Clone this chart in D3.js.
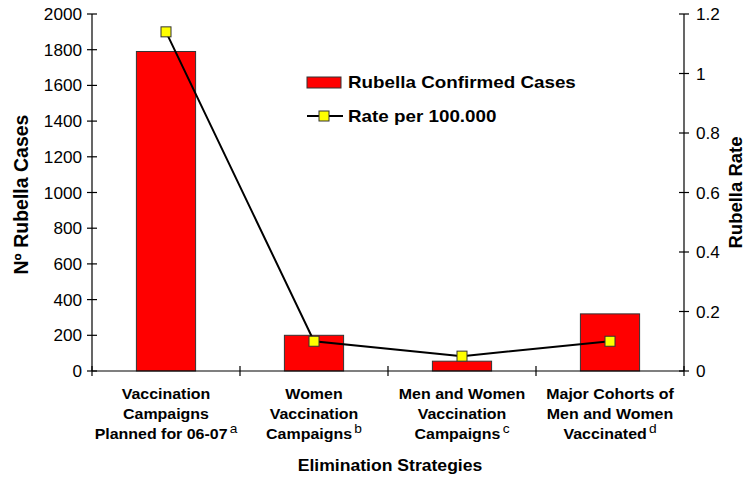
<!DOCTYPE html>
<html><head><meta charset="utf-8">
<script src="https://cdn.jsdelivr.net/npm/d3@7"></script>
<style>body{margin:0;background:#fff}svg{display:block}text{font-family:"Liberation Sans",Arial,sans-serif;fill:#000}</style>
</head><body><svg id="c" width="745" height="477"></svg>
<script>
const categories = ["Vaccination Campaigns Planned for 06-07","Women Vaccination Campaigns","Men and Women Vaccination Campaigns","Major Cohorts of Men and Women Vaccinated"];
const categoryLines = [["Vaccination","Campaigns","Planned for 06-07"],["Women","Vaccination","Campaigns"],["Men and Women","Vaccination","Campaigns"],["Major Cohorts of","Men and Women","Vaccinated"]];
const footnotes = ["a","b","c","d"];
const cases = [1790, 200, 55, 320];
const rate = [1.14, 0.10, 0.05, 0.10];
const leftTicks = [0,200,400,600,800,1000,1200,1400,1600,1800,2000];
const rightTicks = [0,0.2,0.4,0.6,0.8,1,1.2];

const svg = d3.select("#c");
const L = 92, R = 684, T = 14, B = 371;
const x = d3.scaleBand().domain(categories).range([L, R]).paddingInner(0.6).paddingOuter(0.3);
const yL = d3.scaleLinear().domain([0,2000]).range([B, T]);
const yR = d3.scaleLinear().domain([0,1.2]).range([B, T]);

function txt(px, py, str, size, bold, anchor, sx){
  return svg.append("text").attr("transform",`translate(${px},${py}) scale(${sx||1},1)`)
    .attr("text-anchor",anchor||"start").attr("font-size",size)
    .attr("font-weight",bold?"bold":"normal").text(str);
}

// bars
svg.selectAll("rect.bar").data(cases).join("rect")
  .attr("x",(d,i)=>x(categories[i])).attr("y",d=>yL(d))
  .attr("width",x.bandwidth()).attr("height",d=>B-yL(d))
  .attr("fill","#FF0000").attr("stroke","#333").attr("stroke-width",1);

// axes
const ax = svg.append("g").attr("stroke","#000").attr("stroke-width",1.2);
ax.append("line").attr("x1",L).attr("x2",L).attr("y1",T).attr("y2",B);
ax.append("line").attr("x1",R).attr("x2",R).attr("y1",T).attr("y2",B);
ax.append("line").attr("x1",L).attr("x2",R).attr("y1",B).attr("y2",B);
leftTicks.forEach(t=>ax.append("line").attr("x1",L-5).attr("x2",L+5).attr("y1",yL(t)).attr("y2",yL(t)));
rightTicks.forEach(t=>ax.append("line").attr("x1",R-5).attr("x2",R+5).attr("y1",yR(t)).attr("y2",yR(t)));
for(let i=0;i<=categories.length;i++){
  const xx = L + x.step()*i;
  ax.append("line").attr("x1",xx).attr("x2",xx).attr("y1",B-5).attr("y2",B+5);
}
leftTicks.forEach(t=>txt(L-10, yL(t)+6, t, 16.5, false, "end", 1.04));
rightTicks.forEach(t=>txt(R+12, yR(t)+6, d3.format("~g")(t), 16.5, false, "start", 1.04));

// category labels
categoryLines.forEach((lines,i)=>{
  const cx = x(categories[i]) + x.bandwidth()/2;
  lines.forEach((ln,j)=>{
    const t = txt(cx, 399+j*20, ln, 14.5, true, "middle", 1.1);
    if(j===lines.length-1){
      t.append("tspan").attr("font-weight","normal").attr("font-size",12.5).attr("dy",-6).attr("dx",2).text(footnotes[i]);
    }
  });
});

// axis titles
txt(390, 471, "Elimination Strategies", 16, true, "middle", 1.1);
svg.append("text").attr("transform",`translate(28,${(T+B)/2+2}) rotate(-90)`).attr("text-anchor","middle")
  .attr("font-size",19.5).attr("font-weight","bold").text("Nº Rubella Cases");
svg.append("text").attr("transform",`translate(742,${(T+B)/2}) rotate(-90)`).attr("text-anchor","middle")
  .attr("font-size",18.5).attr("font-weight","bold").text("Rubella Rate");

// line
const line = d3.line().x((d,i)=>x(categories[i])+x.bandwidth()/2).y(d=>yR(d));
svg.append("path").datum(rate).attr("d",line).attr("fill","none").attr("stroke","#000").attr("stroke-width",2);
svg.selectAll("rect.mk").data(rate).join("rect")
  .attr("x",(d,i)=>x(categories[i])+x.bandwidth()/2-5).attr("y",d=>yR(d)-5)
  .attr("width",10).attr("height",10).attr("fill","#FFFF00").attr("stroke","#333").attr("stroke-width",1);

// legend
svg.append("rect").attr("x",307).attr("y",77).attr("width",34).attr("height",11).attr("fill","#FF0000").attr("stroke","#333");
txt(348, 88, "Rubella Confirmed Cases", 16.5, true, "start", 1.14);
svg.append("line").attr("x1",307).attr("x2",343).attr("y1",116).attr("y2",116).attr("stroke","#000").attr("stroke-width",2);
svg.append("rect").attr("x",319).attr("y",111).attr("width",10).attr("height",10).attr("fill","#FFFF00").attr("stroke","#333");
txt(348, 122, "Rate per 100.000", 16.5, true, "start", 1.14);
</script></body></html>
